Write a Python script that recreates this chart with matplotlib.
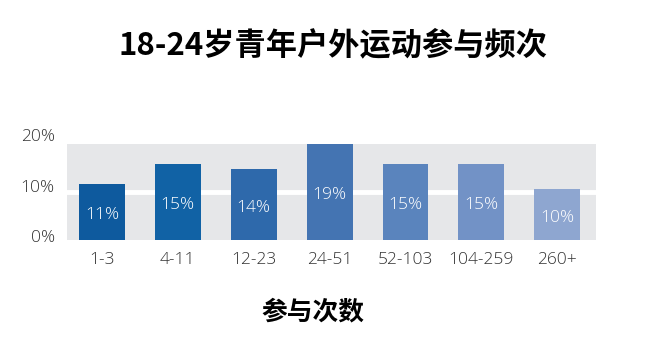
import matplotlib
matplotlib.use("Agg")
import matplotlib.pyplot as plt

plt.rcParams['font.family'] = ['Open Sans', 'Noto Sans CJK SC', 'DejaVu Sans']

categories = ["1-3", "4-11", "12-23", "24-51", "52-103", "104-259", "260+"]
values = [11, 15, 14, 19, 15, 15, 10]
labels = ["11%", "15%", "14%", "19%", "15%", "15%", "10%"]
ytick_vals = [0, 10, 20]
ytick_labels = ["0%", "10%", "20%"]
colors = ["#0e5a9e", "#1162a5", "#2e69ab", "#4474b2", "#5a84bd", "#7292c6", "#8ea6d0"]

fig = plt.figure(figsize=(6.5, 3.56), dpi=100)
ax = fig.add_axes([0.103, 0.326, 0.814, 0.2695])
ax.set_facecolor("#e6e7e9")
x = range(len(categories))
ax.axhline(9.5, color="white", lw=3.5, zorder=1)
bars = ax.bar(x, values, width=0.605, color=colors, zorder=2)
for i, (v, t) in enumerate(zip(values, labels)):
    ax.text(i, v / 2 - 0.6, t, ha="center", va="center", color="white",
            fontsize=12.5, fontweight="light", zorder=3)
ax.set_xlim(-0.46, 6.51)
ax.set_ylim(0, 19)
ax.set_xticks(list(x))
ax.set_xticklabels(categories, fontsize=12.5, color="#333333", fontweight="light")
ax.tick_params(axis="x", length=0, pad=9)
ax.set_yticks([])
for v, t in zip(ytick_vals, ytick_labels):
    ax.text(-0.62, v + 0.3, t, ha="right", va="center", fontsize=12.5,
            color="#333333", fontweight="light", clip_on=False)
for s in ax.spines.values():
    s.set_visible(False)

fig.text(0.512, 0.873, "18-24岁青年户外运动参与频次", ha="center", va="center",
         fontsize=22.5, fontweight="heavy", family=["Noto Sans CJK SC", "DejaVu Sans"])
fig.text(0.482, 0.125, "参与次数", ha="center", va="center",
         fontsize=18.5, fontweight="heavy", family=["Noto Sans CJK SC", "DejaVu Sans"])

fig.savefig("out.png", dpi=100)
